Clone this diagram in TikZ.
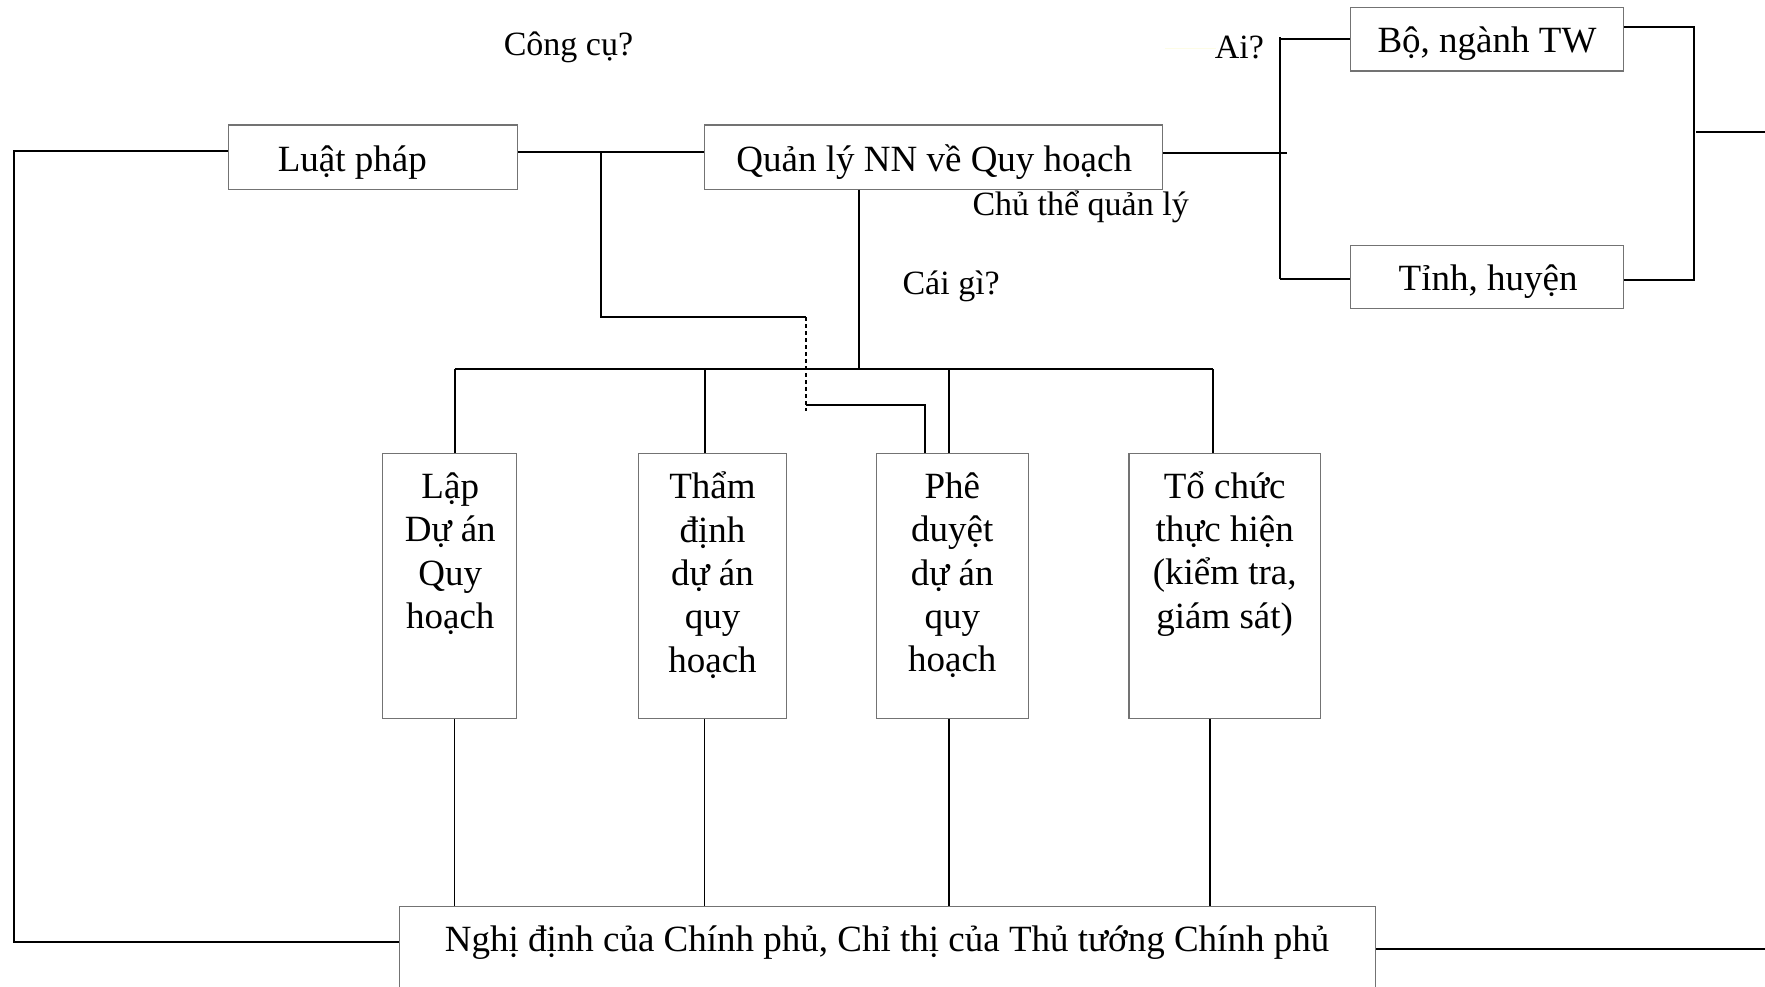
\documentclass[tikz,border=0pt]{standalone}
\usepackage{fontspec}
\setmainfont{Liberation Serif}
\usetikzlibrary{calc,fit}
\begin{document}
\begin{tikzpicture}[x=1.1257pt,y=-1.1257pt,
  box/.style={draw=black!55, line width=1.2pt, inner sep=0pt, rectangle},
  conn/.style={draw=black, line width=2pt},
  thin conn/.style={draw=black, line width=1.3pt},
  lbl/.style={inner sep=0pt, font=\fontsize{34}{40}\selectfont},
  btext/.style={inner sep=0pt, align=center, font=\fontsize{37}{43.3}\selectfont}]
\useasboundingbox (0,0) rectangle (1568,876);
\fill[white] (0,0) rectangle (1568,876);

% boxes
\node[box, fit={(203,111) (460,168)}] (luat) {};
\node[box, fit={(626,111) (1033,168)}] (quan) {};
\node[box, fit={(1200,7) (1442,63)}] (bo) {};
\node[box, fit={(1200,218) (1442,274)}] (tinh) {};
\node[box, fit={(340,403) (459,638)}] (lap) {};
\node[box, fit={(567,403) (699,638)}] (tham) {};
\node[box, fit={(779,403) (914,638)}] (phe) {};
\node[box, fit={(1003,403) (1173,638)}] (tochuc) {};
\node[box, fit={(355,805) (1222,900)}] (nghi) {};

% box texts
\node[btext] (tluat) at (313,144) {Luật pháp};
\node[btext] (tquan) at (830,144) {Quản lý NN về Quy hoạch};
\node[btext] (tbo) at (1321,39) {Bộ, ngành TW};
\node[btext] (ttinh) at (1322,250) {Tỉnh, huyện};
\node[btext] (tlap) at (400,492) {Lập\\Dự án\\Quy\\hoạch};
\node[btext] (ttham) at (633,511) {Thẩm\\định\\dự án\\quy\\hoạch};
\node[btext] (tphe) at (846,511) {Phê\\duyệt\\dự án\\quy\\hoạch};
\node[btext] (tto) at (1088,492) {Tổ chức\\thực hiện\\(kiểm tra,\\giám sát)};
\node[btext] (tnghi) at (788,837) {Nghị định của Chính phủ, Chỉ thị của Thủ tướng Chính phủ};

% free labels
\node[lbl] (congcu) at (505,42) {Công cụ?};
\node[lbl] (ai) at (1101,42) {Ai?};
\node[lbl] (chuthe) at (960,184) {Chủ thể quản lý};
\node[lbl] (caigi) at (845,254) {Cái gì?};

% coordinates
\coordinate (lefttop) at (12,134);
\coordinate (leftbot) at (12,837);
\coordinate (jl) at (534,135);
\coordinate (jl2) at (534,282);
\coordinate (dtop) at (716,282);
\coordinate (dbot) at (716,365);
\coordinate (dmid) at (716,360);
\coordinate (pk) at (822,360);
\coordinate (busL) at (404,328);
\coordinate (busR) at (1078,328);
\coordinate (busM) at (763,328);
\coordinate (qr) at (1143,136);
\coordinate (vt) at (1137,33);
\coordinate (vb) at (1137,248);
\coordinate (rt) at (1505,24);
\coordinate (rb) at (1505,249);
\coordinate (rm) at (1507,117);
\coordinate (rmend) at (1568,117);
\coordinate (bend) at (1568,843);
\coordinate (fa) at (1035,43);
\coordinate (fb) at (1080,43);

% faint line near Ai?
\draw[draw=black!10!yellow!10!white, line width=1.2pt] (fa) -- (fb);

% left loop
\draw[conn] ($(luat.west)+(0,-5.5)$) -- (lefttop) -- (leftbot) -- ($(nghi.west)+(0,-15.5)$);
\draw[conn] ($(luat.east)+(0,-4.5)$) -- ($(quan.west)+(0,-4.5)$);
\draw[conn] (jl) -- (jl2) -- (dtop);
\draw[conn, line width=1.5pt, dash pattern=on 4pt off 3pt] (dtop) -- (dbot);
\draw[conn] (dmid) -- (pk) -- (pk |- phe.north);

% bus
\draw[conn] (quan.south -| busM) -- (busM);
\draw[conn] (busL) -- (busR);
\draw[conn] (busL) -- (busL |- lap.north);
\draw[conn] (tham.north -| 626,0) -- (626,328);
\draw[conn] (phe.north -| 843,0) -- (843,328);
\draw[conn] (busR) -- (busR |- tochuc.north);

% down to nghi
\draw[thin conn] (lap.south -| 404,0) -- (nghi.north -| 404,0);
\draw[thin conn] (tham.south -| 626,0) -- (nghi.north -| 626,0);
\draw[thin conn] (phe.south -| 843,0) -- (nghi.north -| 843,0);
\draw[thin conn] (tochuc.south -| 1075,0) -- (nghi.north -| 1075,0);

% right part
\draw[conn] ($(quan.east)+(0,-3.5)$) -- (qr);
\draw[conn] (vt) -- (vb);
\draw[conn] (vt |- bo.west) -- (bo.west);
\draw[conn] (vb) -- (tinh.west |- vb);
\draw[conn] (bo.east |- rt) -- (rt) -- (rb) -- (tinh.east |- rb);
\draw[conn] (rm) -- (rmend);
\draw[conn] (nghi.east |- bend) -- (bend);
\end{tikzpicture}
\end{document}
